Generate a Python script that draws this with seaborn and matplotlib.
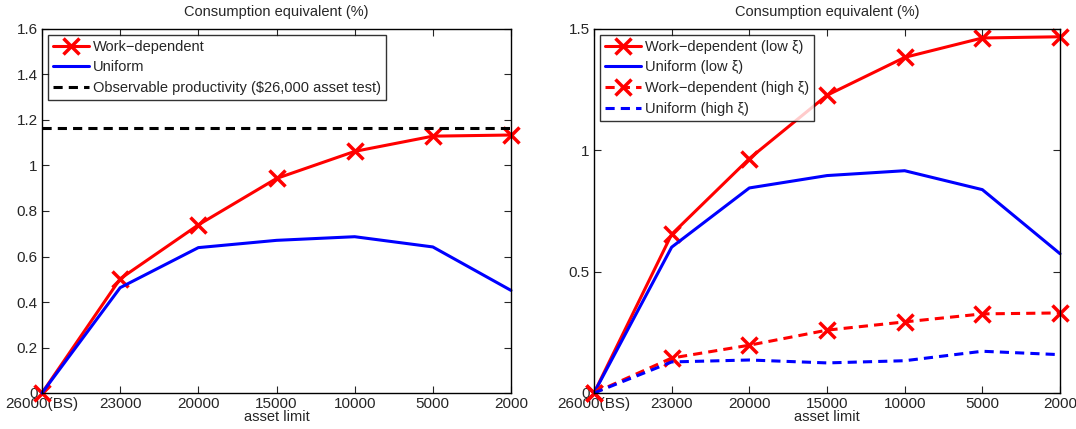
import numpy as np
import pandas as pd
import matplotlib
matplotlib.use("Agg")
import matplotlib.pyplot as plt
import seaborn as sns

asset_limits = ["26000(BS)", "23000", "20000", "15000", "10000", "5000", "2000"]

# left panel
work_dep = [0.0, 0.502, 0.739, 0.943, 1.062, 1.129, 1.134]
uniform = [0.0, 0.463, 0.639, 0.671, 0.687, 0.642, 0.451]
observable = 1.167

# right panel
work_dep_low = [0.0, 0.654, 0.966, 1.227, 1.383, 1.463, 1.468]
uniform_low = [0.0, 0.601, 0.845, 0.896, 0.916, 0.838, 0.574]
work_dep_high = [0.0, 0.144, 0.197, 0.259, 0.293, 0.326, 0.330]
uniform_high = [0.0, 0.128, 0.136, 0.124, 0.133, 0.172, 0.158]

sns.set_style("ticks")
plt.rcParams['font.family'] = ['Liberation Sans', 'DejaVu Sans']

fig = plt.figure(figsize=(10.76, 4.29), dpi=100)
ax1 = fig.add_axes([42 / 1076, 1 - 393 / 429, 469 / 1076, 364 / 429])
ax2 = fig.add_axes([594 / 1076, 1 - 393 / 429, 466 / 1076, 364 / 429])

pos = np.arange(len(asset_limits))
lw = 2.2

def line(ax, y, color, ls, marker, label):
    df = pd.DataFrame({"x": pos, "y": y})
    sns.lineplot(data=df, x="x", y="y", ax=ax, color=color, linestyle=ls,
                 marker=marker, markersize=11, markeredgewidth=2.5,
                 markeredgecolor=color, linewidth=lw, label=label,
                 dashes=False)

line(ax1, work_dep, "red", "-", "x", "Work\u2212dependent")
line(ax1, uniform, "blue", "-", None, "Uniform")
ax1.axhline(observable, color="black", linestyle=(0, (3, 2)), linewidth=lw,
            label="Observable productivity ($26,000 asset test)")
ax1.set_ylim(0, 1.6)
ax1.set_yticks(np.arange(0, 1.61, 0.2))
ax1.set_yticklabels(["0", "0.2", "0.4", "0.6", "0.8", "1", "1.2", "1.4", "1.6"])

line(ax2, work_dep_low, "red", "-", "x", "Work\u2212dependent (low \u03be)")
line(ax2, uniform_low, "blue", "-", None, "Uniform (low \u03be)")
line(ax2, work_dep_high, "red", (0, (3, 2)), "x", "Work\u2212dependent (high \u03be)")
line(ax2, uniform_high, "blue", (0, (3, 2)), None, "Uniform (high \u03be)")
ax2.set_ylim(0, 1.5)
ax2.set_yticks([0, 0.5, 1, 1.5])
ax2.set_yticklabels(["0", "0.5", "1", "1.5"])

for ax in (ax1, ax2):
    ax.set_xlim(0, len(asset_limits) - 1)
    ax.set_xticks(pos)
    ax.set_xticklabels(asset_limits)
    ax.set_xlabel("asset limit", fontsize=10.5, labelpad=-1)
    ax.set_ylabel("")
    ax.set_title("Consumption equivalent (%)", fontsize=10.5, pad=9)
    ax.tick_params(direction="in", top=True, right=True, labelsize=11,
                   length=5, width=0.8, pad=3)
    for s in ax.spines.values():
        s.set_visible(True)
        s.set_linewidth(1.0)
        s.set_color("black")
    leg = ax.legend(loc="upper left", fontsize=10.5, frameon=True, fancybox=False,
                    borderaxespad=0.4, handlelength=2.5, handletextpad=0.25,
                    labelspacing=0.45, borderpad=0.35)
    leg.get_frame().set_edgecolor("black")
    leg.get_frame().set_linewidth(1.0)
    for l in ax.lines:
        l.set_clip_on(False)

fig.savefig("out.png", dpi=100)
